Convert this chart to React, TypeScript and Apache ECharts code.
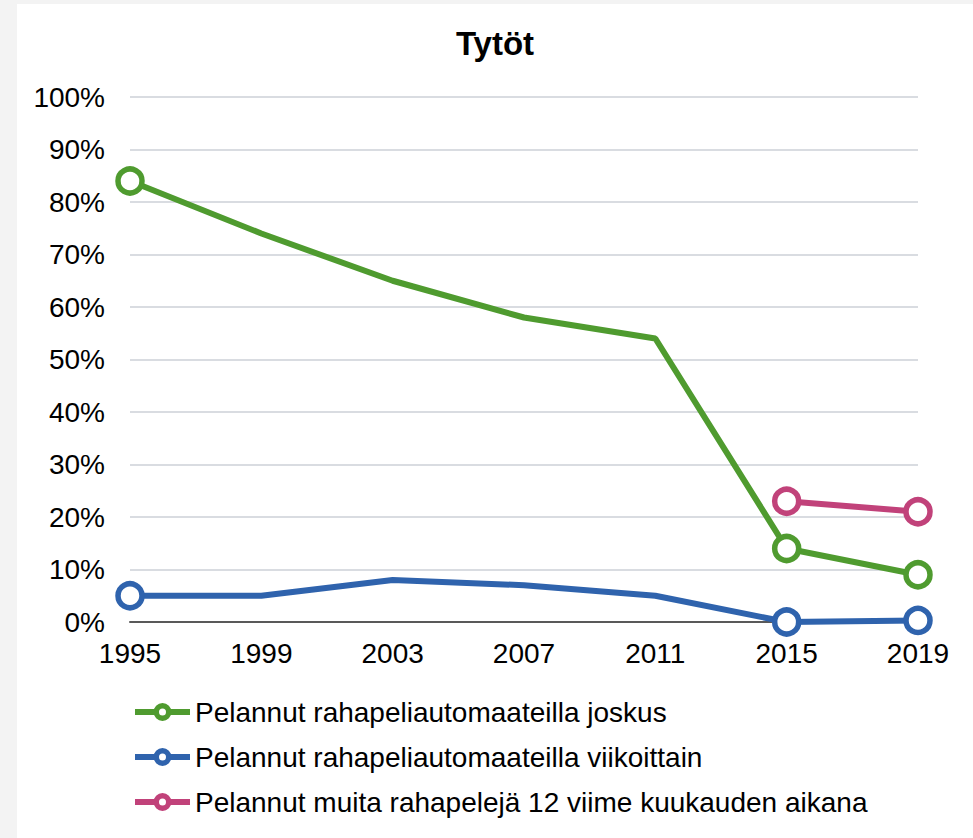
import React, { useEffect, useRef } from "react";
import * as echarts from "echarts";

const titleText = "Tytöt";
const years = ["1995", "1999", "2003", "2007", "2011", "2015", "2019"];
const seriesNames = [
  "Pelannut rahapeliautomaateilla joskus",
  "Pelannut rahapeliautomaateilla viikoittain",
  "Pelannut muita rahapelejä 12 viime kuukauden aikana",
];
const joskus = [84, 74, 65, 58, 54, 14, 9];
const viikoittain = [5, 5, 8, 7, 5, 0, 0.3];
const muita = [null, null, null, null, null, 23, 21];
const markerYears = ["1995", "2015", "2019"];
const seriesColors = ["#4f9b2f", "#2f63ad", "#c1427a"];

const FONT = "'Liberation Sans', Arial, sans-serif";
const LEGEND_ICON =
  "path://M0 6H19.5V12H0Z M35.5 6H55V12H35.5Z M36.5 9A9 9 0 1 1 18.5 9A9 9 0 1 1 36.5 9Z M31 9A3.5 3.5 0 1 0 24 9A3.5 3.5 0 1 0 31 9Z";

function withMarkers(values: (number | null)[]) {
  return values.map((v, i) => ({
    value: v,
    symbol: markerYears.includes(years[i]) ? "circle" : "none",
  }));
}

export default function App() {
  const ref = useRef<HTMLDivElement>(null);

  useEffect(() => {
    if (!ref.current) return;
    const chart = echarts.init(ref.current, null, { renderer: "svg" });
    const allValues = [joskus, viikoittain, muita];
    chart.setOption({
      animation: false,
      backgroundColor: "#ffffff",
      textStyle: { fontFamily: FONT },
      title: {
        text: titleText,
        left: "center",
        top: 18,
        textStyle: { fontFamily: FONT, fontSize: 33, fontWeight: "bold", color: "#000" },
      },
      grid: { left: 113, right: 55, top: 93, bottom: 216, containLabel: false },
      legend: {
        orient: "vertical",
        left: 113,
        top: 689,
        itemGap: 17,
        itemWidth: 55,
        itemHeight: 18,
        icon: LEGEND_ICON,
        textStyle: { fontFamily: FONT, fontSize: 28, color: "#000" },
        data: seriesNames.map((name, i) => ({
          name,
          icon: LEGEND_ICON,
          itemStyle: { color: seriesColors[i], borderWidth: 0 },
        })),
      },
      xAxis: {
        type: "category",
        data: years,
        boundaryGap: false,
        axisLine: { show: true, lineStyle: { color: "#595959", width: 2 } },
        axisTick: { show: false },
        axisLabel: { fontFamily: FONT, fontSize: 28, color: "#000", margin: 17 },
        splitLine: { show: false },
      },
      yAxis: {
        type: "value",
        min: 0,
        max: 100,
        interval: 10,
        axisLine: { show: false },
        axisTick: { show: false },
        axisLabel: {
          fontFamily: FONT,
          fontSize: 28,
          color: "#000",
          margin: 25,
          formatter: (v: number) => `${v}%`,
        },
        splitLine: { lineStyle: { color: "#d9dce1", width: 2 } },
      },
      series: seriesNames.map((name, i) => ({
        name,
        type: "line",
        data: withMarkers(allValues[i]),
        symbol: "circle",
        symbolSize: 24,
        showAllSymbol: true,
        connectNulls: false,
        lineStyle: { color: seriesColors[i], width: 6 },
        itemStyle: { color: "#ffffff", borderColor: seriesColors[i], borderWidth: 5.5 },
        emphasis: { disabled: true },
        z: 3 + (2 - i),
      })),
    });
    return () => chart.dispose();
  }, []);

  return (
    <div
      style={{
        position: "fixed",
        left: 0,
        top: 0,
        width: 973,
        height: 838,
        background: "#f3f3f3",
        overflow: "hidden",
      }}
    >
      <div
        ref={ref}
        style={{ position: "absolute", left: 17, top: 4, width: 956, height: 834 }}
      />
    </div>
  );
}
